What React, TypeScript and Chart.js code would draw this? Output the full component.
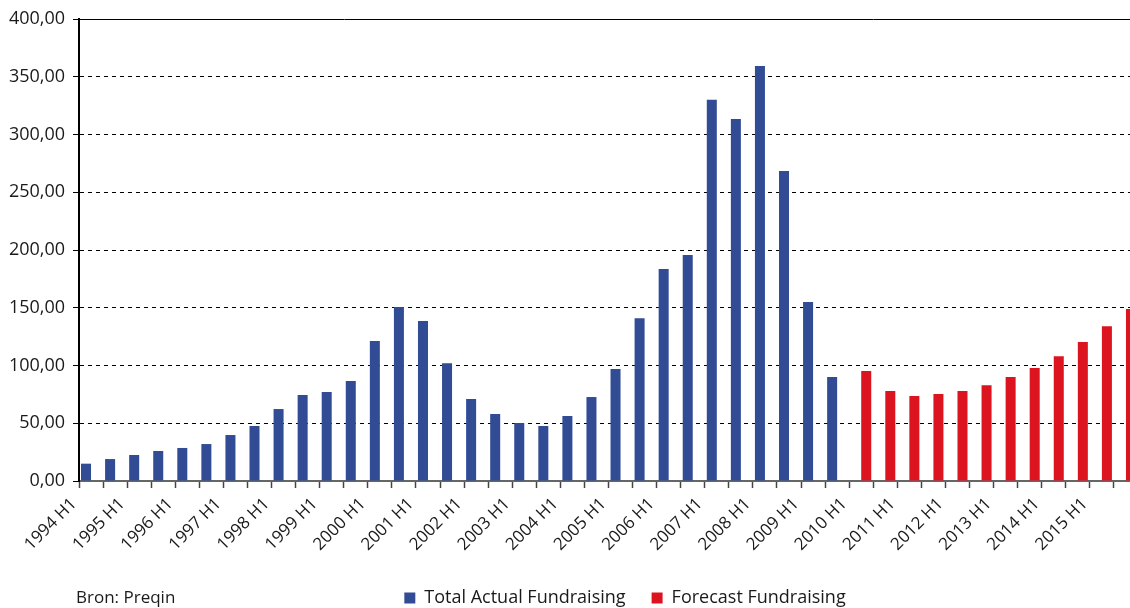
import { useEffect, useRef } from "react";
import { Chart, registerables } from "chart.js";

Chart.register(...registerables);

// Half-year periods on the category axis
const periods: string[] = [
  "1994 H1", "1994 H2", "1995 H1", "1995 H2", "1996 H1", "1996 H2",
  "1997 H1", "1997 H2", "1998 H1", "1998 H2", "1999 H1", "1999 H2",
  "2000 H1", "2000 H2", "2001 H1", "2001 H2", "2002 H1", "2002 H2",
  "2003 H1", "2003 H2", "2004 H1", "2004 H2", "2005 H1", "2005 H2",
  "2006 H1", "2006 H2", "2007 H1", "2007 H2", "2008 H1", "2008 H2",
  "2009 H1", "2009 H2", "2010 H1", "2010 H2", "2011 H1", "2011 H2",
  "2012 H1", "2012 H2", "2013 H1", "2013 H2", "2014 H1", "2014 H2",
  "2015 H1", "2015 H2",
];

// Realised fundraising, 1994 H1 – 2009 H2
const actualFundraising: number[] = [
  15, 19, 22.5, 26, 28.6, 32, 39.8, 47.6, 62.3, 74.5, 77, 86.6,
  121.2, 150.6, 138.5, 102, 71, 58, 50.2, 47.6, 56.3, 72.7, 97, 141,
  183.5, 195.7, 330, 313.4, 359.3, 268.4, 155, 90,
];

// Forecast fundraising, 2010 H1 – 2015 H2
const forecastFundraising: number[] = [
  95.2, 78, 73.6, 75.3, 78, 83, 90, 97.8, 108, 120.3, 134, 149,
];

const actualLabel = "Total Actual Fundraising";
const forecastLabel = "Forecast Fundraising";
const sourceNote = "Bron: Preqin";

const BLUE = "#314b95";
const RED = "#dc1420";
const TEXT = "#1a1a1a";
const FONT = "'Open Sans', 'Noto Sans', sans-serif";

const forecastStart = actualFundraising.length;
const actualSeries = periods.map((_, i) =>
  i < forecastStart ? actualFundraising[i] : null
);
const forecastSeries = periods.map((_, i) =>
  i >= forecastStart ? forecastFundraising[i - forecastStart] : null
);

// Moves the legend row right so it sits under the middle of the page,
// and writes the source line to its left on the same baseline
const legendRowPlugin = {
  id: "legendRow",
  afterLayout(chart: any) {
    const legend = chart.legend;
    if (!legend) return;
    legend.left += 56;
    legend.right += 56;
  },
  afterDraw(chart: any) {
    const boxes = chart.legend?.legendHitBoxes;
    if (!boxes || !boxes.length) return;
    const y = boxes[0].top + boxes[0].height / 2;
    const ctx = chart.ctx;
    ctx.save();
    ctx.font = `17px ${FONT}`;
    ctx.fillStyle = TEXT;
    ctx.textAlign = "left";
    ctx.textBaseline = "middle";
    ctx.fillText(sourceNote, 76, y);
    ctx.restore();
  },
};

export default function App() {
  const canvasRef = useRef<HTMLCanvasElement>(null);

  useEffect(() => {
    if (!canvasRef.current) return;
    const chart = new Chart(canvasRef.current, {
      type: "bar",
      data: {
        labels: periods,
        datasets: [
          {
            label: actualLabel,
            data: actualSeries,
            backgroundColor: BLUE,
            borderWidth: 0,
            barPercentage: 1,
            categoryPercentage: 0.832,
          },
          {
            label: forecastLabel,
            data: forecastSeries,
            backgroundColor: RED,
            borderWidth: 0,
            barPercentage: 1,
            categoryPercentage: 0.832,
          },
        ],
      },
      options: {
        responsive: false,
        animation: false,
        layout: { padding: { left: 0, right: 112, top: 19, bottom: 8 } },
        plugins: {
          tooltip: { enabled: false },
          legend: {
            position: "bottom",
            labels: {
              boxWidth: 11,
              boxHeight: 11,
              padding: 26,
              color: TEXT,
              font: { family: FONT, size: 18 },
            },
          },
        },
        scales: {
          x: {
            afterFit: (scale: any) => {
              scale.height = 82;
            },
            grid: {
              display: true,
              offset: true,
              drawOnChartArea: false,
              drawTicks: true,
              tickLength: 7,
              tickColor: "#444",
              tickWidth: 1.5,
            },
            border: { display: true, color: "#666", width: 2 },
            ticks: {
              autoSkip: false,
              maxRotation: 45,
              minRotation: 45,
              padding: 6,
              labelOffset: -17,
              color: TEXT,
              font: { family: FONT, size: 17 },
              callback: (_v: any, i: number) =>
                periods[i].endsWith("H1") ? periods[i] : "",
            },
          },
          y: {
            min: 0,
            max: 400,
            afterFit: (scale: any) => {
              scale.width = 79;
            },
            grid: {
              color: (ctx: any) =>
                ctx.tick && ctx.tick.value === 0 ? "rgba(0,0,0,0)" : "#000",
              lineWidth: 1,
              drawTicks: true,
              tickLength: 6,
              tickColor: "#000",
            },
            border: {
              display: true,
              color: "#000",
              width: 2,
              dash: (ctx: any) =>
                ctx.tick && ctx.tick.value === 400 ? [] : [4, 4],
            },
            ticks: {
              stepSize: 50,
              padding: 8,
              color: TEXT,
              font: { family: FONT, size: 18 },
              callback: (v: any) => Number(v).toFixed(2).replace(".", ","),
            },
          },
        },
      },
      plugins: [legendRowPlugin],
    });
    return () => chart.destroy();
  }, []);

  return (
    <div
      style={{
        position: "fixed",
        left: 0,
        top: 0,
        width: 1130,
        height: 608,
        overflow: "hidden",
        background: "#fff",
      }}
    >
      <canvas
        ref={canvasRef}
        width={1250}
        height={625}
        style={{ display: "block", width: 1250, height: 625 }}
      />
    </div>
  );
}
